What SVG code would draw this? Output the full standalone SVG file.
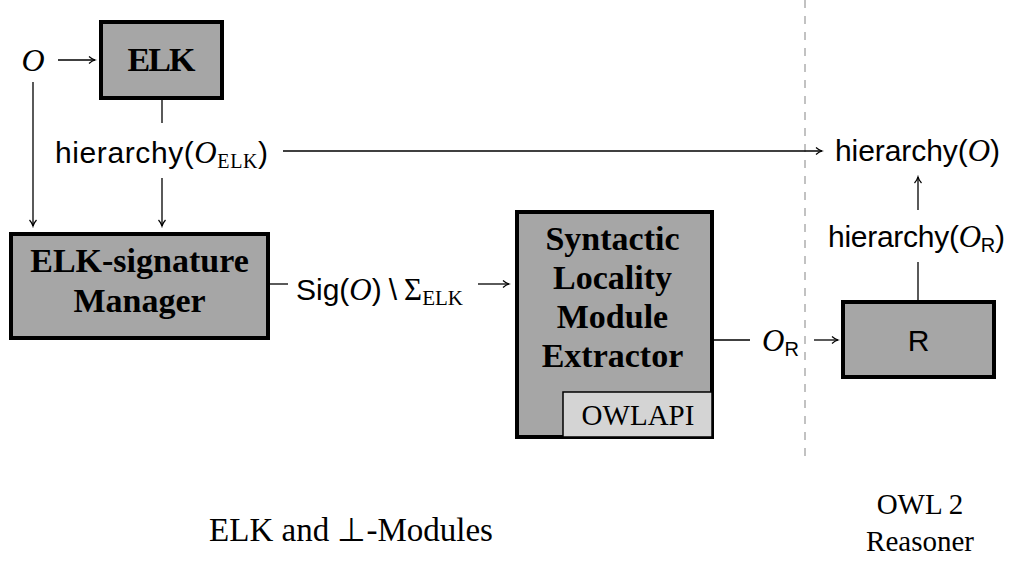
<svg xmlns="http://www.w3.org/2000/svg" width="1012" height="567" viewBox="0 0 1012 567">
<defs>
<marker id="ah" markerWidth="10" markerHeight="10" refX="8" refY="5" orient="auto" markerUnits="userSpaceOnUse">
<path d="M2,1.5 Q5,4.2 8,5 Q5,5.8 2,8.5" fill="none" stroke="#000" stroke-width="1.2"/>
</marker>
<style>
.box{fill:#a6a6a6;stroke:#000;stroke-width:4}
.sub{fill:#d4d4d4;stroke:#000;stroke-width:1.5}
.bt{font-family:"Liberation Serif",serif;font-weight:bold;font-size:34px;text-anchor:middle;fill:#000}
.sf{font-family:"Liberation Sans",sans-serif;font-size:30px;fill:#000}
.cal{font-family:"Liberation Serif",serif;font-style:italic}
.rm{font-family:"Liberation Serif",serif}
.sr{font-family:"Liberation Serif",serif;font-size:29px;text-anchor:middle;fill:#000}
.ln{stroke:#000;stroke-width:1.3;fill:none}
.arr{stroke:#000;stroke-width:1.3;fill:none;marker-end:url(#ah)}
</style>
</defs>
<line x1="805" y1="0" x2="805" y2="462" stroke="#b3b3b3" stroke-width="1.6" stroke-dasharray="8 8"/>
<g id="connectors">
<line class="arr" x1="58" y1="60" x2="95" y2="60"/>
<line class="arr" x1="33" y1="82" x2="33" y2="226"/>
<line class="ln" x1="162" y1="99" x2="162" y2="123"/>
<line class="arr" x1="162" y1="178" x2="162" y2="226"/>
<line class="arr" x1="283" y1="151" x2="822" y2="151"/>
<line class="ln" x1="269" y1="284" x2="288" y2="284"/>
<line class="arr" x1="478" y1="284" x2="509" y2="284"/>
<line class="ln" x1="713" y1="340" x2="750" y2="340"/>
<line class="arr" x1="814" y1="340" x2="838" y2="340"/>
<line class="ln" x1="918" y1="262" x2="918" y2="302"/>
<line class="arr" x1="918" y1="210" x2="918" y2="177"/>
</g>
<g id="o-input"><text x="33" y="71" class="sf cal" style="font-size:32px" text-anchor="middle">O</text></g>
<g id="elk">
<rect class="box" x="101" y="22" width="121" height="76"/>
<text class="bt" x="161.5" y="71" textLength="68" lengthAdjust="spacing">ELK</text>
</g>
<g id="hier-elk"><text class="sf" x="55" y="163" textLength="213" lengthAdjust="spacing">hierarchy(<tspan class="cal" font-size="31">O</tspan><tspan class="rm" font-size="20" dy="5">ELK</tspan><tspan dy="-5">)</tspan></text></g>
<g id="manager">
<rect class="box" x="11" y="234" width="257" height="104"/>
<text class="bt" x="139.5" y="272">ELK-signature</text>
<text class="bt" x="139.5" y="312">Manager</text>
</g>
<g id="sig"><text class="sf" x="296" y="300">Sig(<tspan class="cal" font-size="31">O</tspan>)<tspan dx="7">\</tspan><tspan class="rm" font-size="31" dx="7">Σ</tspan><tspan class="rm" font-size="21" dy="5">ELK</tspan></text></g>
<g id="extractor">
<rect class="box" x="517" y="212" width="195" height="225"/>
<rect class="sub" x="563" y="392" width="149" height="45"/>
<text class="bt" x="612.5" y="250">Syntactic</text>
<text class="bt" x="612.5" y="289">Locality</text>
<text class="bt" x="612.5" y="328">Module</text>
<text class="bt" x="612.5" y="367">Extractor</text>
<text class="sr" x="638" y="425">OWLAPI</text>
</g>
<g id="or"><text class="sf" x="762" y="351"><tspan class="cal" font-size="31">O</tspan><tspan font-size="20" dy="5">R</tspan></text></g>
<g id="r">
<rect class="box" x="843" y="302" width="151" height="75"/>
<text class="sf" x="918.5" y="351" text-anchor="middle">R</text>
</g>
<g id="hier-o"><text class="sf" x="835" y="161" textLength="165" lengthAdjust="spacing">hierarchy(<tspan class="cal" font-size="31">O</tspan>)</text></g>
<g id="hier-r"><text class="sf" x="828" y="247" textLength="177" lengthAdjust="spacing">hierarchy(<tspan class="cal" font-size="31">O</tspan><tspan font-size="20" dy="5">R</tspan><tspan dy="-5">)</tspan></text></g>
<text class="sr" x="351" y="541" style="font-size:33px">ELK and ⊥-Modules</text>
<text class="sr" x="920" y="514">OWL 2</text>
<text class="sr" x="920" y="551">Reasoner</text>
</svg>
